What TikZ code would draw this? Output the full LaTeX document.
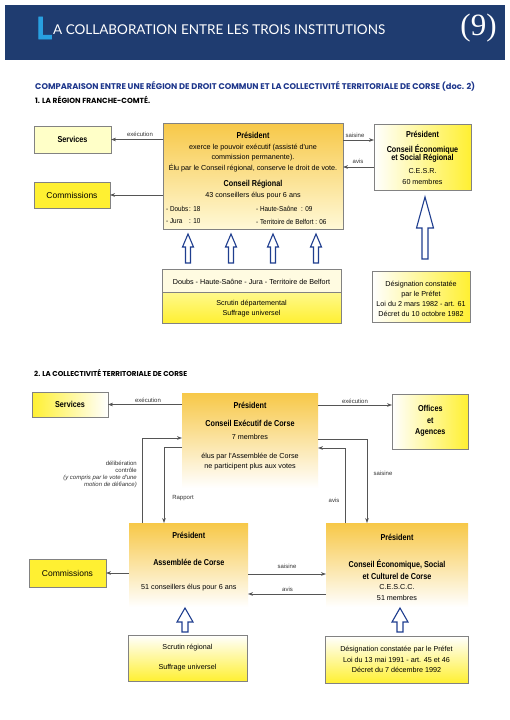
\documentclass[tikz,border=0pt]{standalone}
\usepackage{fontspec}
\usepackage{graphicx}
\usetikzlibrary{arrows.meta}
\setmainfont{Liberation Sans}
\newfontfamily\sansR{Liberation Sans}
\newfontfamily\condB{Liberation Sans}[FakeStretch=0.84]
\newfontfamily\condR{Liberation Sans}[FakeStretch=0.88]
\newfontfamily\heavyL{Liberation Sans}[FakeBold=3]
\newfontfamily\headfont{Lato}
\newfontfamily\subfont{Poppins}
\newfontfamily\numfont{Liberation Serif}
\definecolor{hdrblue}{RGB}{31,60,112}
\definecolor{lblue}{RGB}{40,160,225}
\definecolor{subblue}{RGB}{30,55,140}
\definecolor{arrowblue}{RGB}{31,62,143}
\definecolor{boxgray}{RGB}{130,130,130}
\definecolor{linegray}{RGB}{85,85,85}
\definecolor{gold}{RGB}{247,200,72}
\definecolor{cream}{RGB}{255,249,215}
\definecolor{yel}{RGB}{255,240,50}
\definecolor{lyel}{RGB}{255,255,200}
\definecolor{pale}{RGB}{255,251,225}
\newcommand\txtfont{\sansR\fontsize{7.2}{8}\selectfont}
\newcommand\smtxtfont{\condR\fontsize{7.2}{8}\selectfont}
\newcommand\boxbf{\condB\bfseries\fontsize{8.6}{9}\selectfont}
\newcommand\lblfont{\sansR\fontsize{6}{7}\selectfont}
\newcommand\comfont{\sansR\fontsize{8.5}{9}\selectfont}
\begin{document}
\begin{tikzpicture}[x=1pt,y=-1pt,
  box/.style={draw=boxgray, line width=0.6pt, inner sep=0, outer sep=0},
  softbox/.style={inner sep=0, outer sep=0},
  conn/.style={draw=linegray, line width=0.6pt, -{Stealth[length=5pt,width=3.6pt]}},
  lbl/.style={font=\lblfont, inner sep=0, text=black!80},
  txt/.style={font=\txtfont, inner sep=0},
  ctxt/.style={font=\smtxtfont, inner sep=0},
  ttl/.style={font=\boxbf, inner sep=0},
  hollow/.style={draw=arrowblue, line width=1.1pt, fill=white, line join=miter},
  smallup/.pic={\draw[hollow] (0,0) -- (5.5,13) -- (2.5,13) -- (2.5,29) -- (-2.5,29) -- (-2.5,13) -- (-5.5,13) -- cycle;},
  bigup/.pic={\draw[hollow] (0,0) -- (8.5,31) -- (3,31) -- (3,62) -- (-3,62) -- (-3,31) -- (-8.5,31) -- cycle;},
  midup/.pic={\draw[hollow] (0,0) -- (8,14) -- (3,14) -- (3,24) -- (-3,24) -- (-3,14) -- (-8,14) -- cycle;}
]
\useasboundingbox (0,0) rectangle (509,720);
\fill[white] (0,0) rectangle (509,720);

% header
\fill[hdrblue] (5,5) rectangle (505,60);
\node[anchor=base west, inner sep=0, text=lblue] (hL) at (37,39) {\resizebox{15pt}{22pt}{\heavyL\bfseries L}};
\node[anchor=base west, inner sep=0, text=white] (htitle) at (53,34.5) {\resizebox{332pt}{!}{\headfont A COLLABORATION ENTRE LES TROIS INSTITUTIONS}};
\node[inner sep=0, text=white] (hnum) at (478.5,28) {\numfont\fontsize{31}{31}\selectfont (9)};

\node[anchor=base west, inner sep=0, text=subblue] (sub) at (35,89.5) {\resizebox{440pt}{!}{\subfont\bfseries COMPARAISON ENTRE UNE RÉGION DE DROIT COMMUN ET LA COLLECTIVITÉ TERRITORIALE DE CORSE (doc. 2)}};
\node[anchor=base west, inner sep=0] (sec1) at (35,103.5) {\resizebox{115pt}{!}{\subfont\bfseries 1. LA RÉGION FRANCHE-COMTÉ.}};
\node[anchor=base west, inner sep=0] (sec2) at (34,376.5) {\resizebox{153pt}{!}{\subfont\bfseries 2. LA COLLECTIVITÉ TERRITORIALE DE CORSE}};

% ---------- section 1 ----------
\node[box, fill=lyel, minimum width=77, minimum height=27] (serv1) at (72.5,139.5) {};
\node[ttl] (serv1t) at (72.5,139.5) {Services};
\node[box, fill=yel, minimum width=76, minimum height=26] (comm1) at (72,195) {};
\node[inner sep=0, font=\comfont] (comm1t) at (72,195) {Commissions};

\node[box, top color=gold, bottom color=cream, minimum width=180, minimum height=106] (pres1) at (253,176) {};
\node[ttl] (p1a) at (253,135) {Président};
\node[txt] (p1b) at (253,148) {exerce le pouvoir exécutif (assisté d'une};
\node[txt] (p1c) at (253,158) {commission permanente).};
\node[txt] (p1d) at (253,168) {Élu par le Conseil régional, conserve le droit de vote.};
\node[ttl] (p1e) at (253,184) {Conseil Régional};
\node[txt] (p1f) at (253,196) {43 conseillers élus pour 6 ans};
\node[ctxt, anchor=west] (p1g) at (166,209) {\makebox[23pt][l]{- Doubs}: 18};
\node[ctxt, anchor=west] (p1i) at (166,221.5) {\makebox[23pt][l]{- Jura}: 10};
\node[ctxt, anchor=west] (p1k) at (256,209) {\makebox[45pt][l]{- Haute-Saône}: 09};
\node[ctxt, anchor=west] (p1m) at (256,221.5) {- Territoire de Belfort : 06};

\node[box, left color=white, right color=yel, minimum width=97, minimum height=66] (cesr) at (422.5,157) {};
\node[ttl] (c1a) at (422.5,134) {Président};
\node[ttl] (c1b) at (422.5,149.5) {Conseil Économique};
\node[ttl] (c1c) at (422.5,158) {et Social Régional};
\node[txt] (c1d) at (422.5,171) {C.E.S.R.};
\node[txt] (c1e) at (422.5,181.5) {60 membres};

\draw[conn] (pres1.west |- serv1.east) -- (serv1.east);
\node[lbl] (l1) at (140,134) {exécution};
\draw[conn] (pres1.west |- comm1.east) -- (comm1.east);
\draw[conn] (pres1.east |- 0,140) -- (cesr.west |- 0,140);
\node[lbl] (l2) at (355,135) {saisine};
\draw[conn] (cesr.west |- 0,167) -- (pres1.east |- 0,167);
\node[lbl] (l3) at (358,161.5) {avis};

\node[box, fill=pale, minimum width=179, minimum height=23] (dep) at (251.5,280.5) {};
\node[box, top color=lyel!60!yel, bottom color=yel, minimum width=179, minimum height=31] (scr1) at (251.5,307.5) {};
\node[txt] (d1) at (251.5,282.3) {Doubs - Haute-Saône - Jura - Territoire de Belfort};
\node[txt] (d2) at (251.5,303.3) {Scrutin départemental};
\node[txt] (d3) at (251.5,314) {Suffrage universel};

\node[box, left color=white, right color=yel, minimum width=98, minimum height=51] (desig1) at (421,296.5) {};
\node[txt] (e1) at (421,284.3) {Désignation constatée};
\node[txt] (e2) at (421,294.3) {par le Préfet};
\node[txt] (e3) at (421,304.3) {Loi du 2 mars 1982 - art. 61};
\node[txt] (e4) at (421,314.3) {Décret du 10 octobre 1982};

\pic at (188,234) {smallup};
\pic at (231,234) {smallup};
\pic at (273,234) {smallup};
\pic at (316,234) {smallup};
\pic at (425,197) {bigup};

% ---------- section 2 ----------
\node[box, left color=yel, right color=white, minimum width=76, minimum height=25] (serv2) at (70,404.5) {};
\node[ttl] (serv2t) at (70,404.5) {Services};

\node[softbox, top color=gold, bottom color=white, minimum width=136, minimum height=95] (ce) at (250,440.5) {};
\node[ttl] (ce1) at (250,405) {Président};
\node[ttl] (ce2) at (250,423) {Conseil Exécutif de Corse};
\node[txt] (ce3) at (250,437) {7 membres};
\node[txt] (ce4) at (250,457) {élus par l'Assemblée de Corse};
\node[txt] (ce5) at (250,467) {ne participent plus aux votes};

\node[box, left color=white, right color=yel, minimum width=76, minimum height=55] (off) at (430,421.5) {};
\node[ttl] (of1) at (430.3,408.3) {Offices};
\node[ttl] (of2) at (430.3,420.3) {et};
\node[ttl] (of3) at (430.3,432.3) {Agences};

\draw[conn] (ce.west |- serv2.east) -- (serv2.east);
\node[lbl] (l4) at (148,400) {exécution};
\draw[conn] (ce.east |- 0,405) -- (off.west |- 0,405);
\node[lbl] (l5) at (355,401.5) {exécution};

\node[softbox, top color=gold, bottom color=white, minimum width=119, minimum height=84] (asm) at (188.5,565) {};
\node[ttl] (a1) at (188.8,535.7) {Président};
\node[ttl] (a2) at (188.8,562.3) {Assemblée de Corse};
\node[txt] (a3) at (188.8,587.3) {51 conseillers élus pour 6 ans};

\node[softbox, top color=gold, bottom color=white, minimum width=142, minimum height=84] (cescc) at (397,565) {};
\node[ttl] (s1) at (397,537.7) {Président};
\node[ttl] (s2) at (397,564.3) {Conseil Économique, Social};
\node[ttl] (s3) at (397,576.7) {et Culturel de Corse};
\node[txt] (s4) at (397,587.5) {C.E.S.C.C.};
\node[txt] (s5) at (397,598) {51 membres};

\node[box, fill=yel, minimum width=77, minimum height=28] (comm2) at (67.5,573) {};
\node[inner sep=0, font=\comfont] (comm2t) at (67.5,573) {Commissions};

\draw[conn] (asm.north -| 142,0) |- (ce.west |- 0,438);
\draw[conn] (ce.west |- 0,447) -| (asm.north -| 164,0);
\node[lbl, anchor=east, align=right] (l6) at (137,474.5) {délibération\\contrôle\\\itshape (y compris par le vote d'une\\\itshape motion de défiance)};
\node[lbl] (l7) at (183,498.3) {Rapport};

\draw[conn] (ce.east |- 0,439) -| (cescc.north -| 367,0);
\draw[conn] (cescc.north -| 345,0) |- (ce.east |- 0,448);
\node[lbl] (l8) at (383,473.3) {saisine};
\node[lbl] (l9) at (334,500) {avis};

\draw[conn] (asm.east |- 0,574) -- (cescc.west |- 0,574);
\node[lbl] (l10) at (287,566.7) {saisine};
\draw[conn] (cescc.west |- 0,594) -- (asm.east |- 0,594);
\node[lbl] (l11) at (287.5,589) {avis};
\draw[conn] (asm.west |- comm2.east) -- (comm2.east);

\node[box, top color=white, bottom color=yel, minimum width=119, minimum height=46] (vote2) at (187.5,658) {};
\node[txt] (v1) at (187.5,648) {Scrutin régional};
\node[txt] (v2) at (187.5,668) {Suffrage universel};

\node[box, top color=white, bottom color=yel, minimum width=143, minimum height=47] (desig2) at (396.5,659.5) {};
\node[txt] (g1) at (396.5,650) {Désignation constatée par le Préfet};
\node[txt] (g2) at (396.5,660) {Loi du 13 mai 1991 - art. 45 et 46};
\node[txt] (g3) at (396.5,670) {Décret du 7 décembre 1992};

\pic at (185,608) {midup};
\pic at (400,608) {midup};
\end{tikzpicture}
\end{document}
